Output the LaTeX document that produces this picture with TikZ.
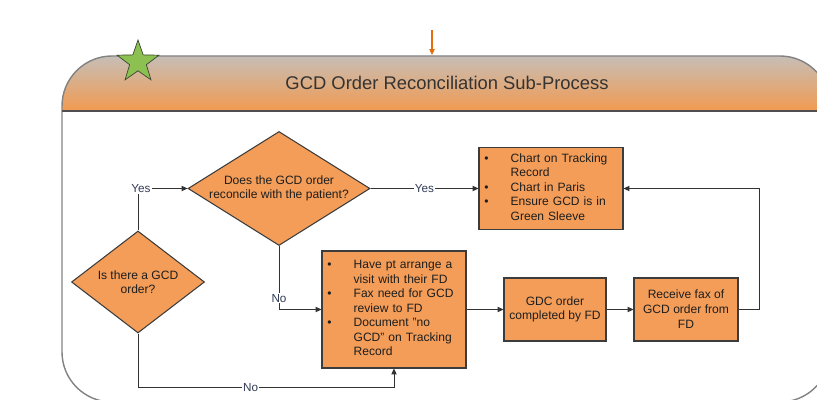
\documentclass[tikz,border=0pt]{standalone}
\usepackage{fontspec}
\setmainfont{Liberation Sans}
\usepackage{array}
\usetikzlibrary{shapes.geometric,arrows.meta,calc}
\definecolor{boxfill}{RGB}{243,157,88}
\definecolor{boxline}{RGB}{60,60,60}
\definecolor{lineC}{RGB}{50,50,50}
\definecolor{textc}{RGB}{30,30,30}
\definecolor{lblc}{RGB}{50,60,85}
\definecolor{hdtop}{RGB}{198,190,182}
\definecolor{hdbot}{RGB}{242,154,80}
\definecolor{framec}{RGB}{130,130,130}
\definecolor{hdline}{RGB}{80,80,80}
\definecolor{starg}{RGB}{140,192,80}
\definecolor{stard}{RGB}{60,70,50}
\definecolor{orangeA}{RGB}{228,108,10}
\newcolumntype{L}[1]{>{\raggedright\arraybackslash}p{#1}}
\begin{document}
\begin{tikzpicture}[x=0.03cm,y=-0.03cm,
  box/.style={draw=boxline, fill=boxfill, line width=0.9pt, inner sep=0pt, text=textc,
    font=\fontsize{10.3}{12.4}\selectfont},
  dia/.style={draw=boxline, fill=boxfill, diamond, inner sep=0pt, line width=0.9pt},
  dtext/.style={align=center, text=textc, inner sep=0pt},
  conn/.style={draw=lineC, line width=0.8pt},
  arr/.style={conn, -{Triangle[length=5pt,width=4.5pt]}},
  lbl/.style={fill=white, inner sep=1pt, text=lblc, font=\fontsize{10}{12}\selectfont}]
\useasboundingbox (0,0) rectangle (817,400);
\clip (0,0) rectangle (817,400);
% frame and header
\begin{scope}
  \clip[rounded corners=1.5cm] (62,56) rectangle (830,402);
  \shade[top color=hdtop, bottom color=hdbot] (62,56) rectangle (830,111);
\end{scope}
\draw[framec, line width=1.2pt, rounded corners=1.5cm] (62,56) rectangle (830,402);
\draw[hdline, line width=1.3pt] (62,111) -- (830,111);
\node[star, star points=5, star point ratio=2.5, minimum size=1.32cm, inner sep=0pt,
  fill=starg, draw=stard, line width=0.6pt] (star) at (138,62) {};
\node[text=black!80, font=\fontsize{15.7}{18}\selectfont] (title) at (447,83) {GCD Order Reconciliation Sub-Process};
\coordinate (oa1) at (432,30);
\coordinate (oa2) at (432,55);
\draw[-{Triangle[length=5pt,width=4.5pt]}, orangeA, line width=0.9pt] (oa1) -- (oa2);

% diamonds
\node[dia, minimum width=5.46cm, minimum height=3.42cm] (d1) at (279,188.5) {};
\node[dtext, font=\fontsize{10.3}{11.5}\selectfont] (d1t) at (d1) {Does the GCD order\\reconcile with the patient?};
\node[dia, minimum width=3.99cm, minimum height=3.06cm] (d2) at (138,282) {};
\node[dtext, font=\fontsize{10.3}{12.4}\selectfont] (d2t) at (d2) {Is there a GCD\\order?};

% boxes
\node[box, minimum width=4.32cm, minimum height=2.46cm, text width=4.32cm, align=left] (A) at (551,188.5)
  {\begin{tabular}{@{\hspace{4.5pt}}L{22.5pt}@{}L{88pt}@{}}
   \textbullet & Chart on Tracking Record\\
   \textbullet & Chart in Paris\\
   \textbullet & Ensure GCD is in Green Sleeve
   \end{tabular}};
\node[box, minimum width=4.32cm, minimum height=3.51cm, text width=4.32cm, align=left] (B) at (394,309.5)
  {\begin{tabular}{@{\hspace{4.5pt}}L{22.5pt}@{}L{88pt}@{}}
   \textbullet & Have pt arrange a visit with their FD\\
   \textbullet & Fax need for GCD review to FD\\
   \textbullet & Document "no GCD" on Tracking Record
   \end{tabular}};
\node[box, minimum width=3.06cm, minimum height=1.89cm, align=center] (C) at (555,309.5)
  {GDC order\\completed by FD};
\node[box, minimum width=3.12cm, minimum height=1.89cm, align=center, font=\fontsize{10.3}{12.8}\selectfont] (D) at (686,309.5)
  {Receive fax of\\GCD order from\\FD};

% connectors
\draw[arr] (d2.north) |- node[lbl, pos=0.5, xshift=0.09cm]{Yes} (d1.west);
\draw[arr] (d1.east) -- node[lbl]{Yes} (A.west);
\draw[arr] (d1.south) |- node[lbl, pos=0.41]{No} (B.west);
\coordinate (bj) at ($(B.south)+(0,19)$);
\draw[arr] (d2.south) |- node[lbl, pos=0.72]{No} (bj) -- (B.south);
\draw[arr] (B.east) -- (C.west);
\draw[arr] (C.east) -- (D.west);
\coordinate (dj) at ($(D.east)+(21,0)$);
\draw[arr] (D.east) -- (dj) |- (A.east);
\end{tikzpicture}
\end{document}
